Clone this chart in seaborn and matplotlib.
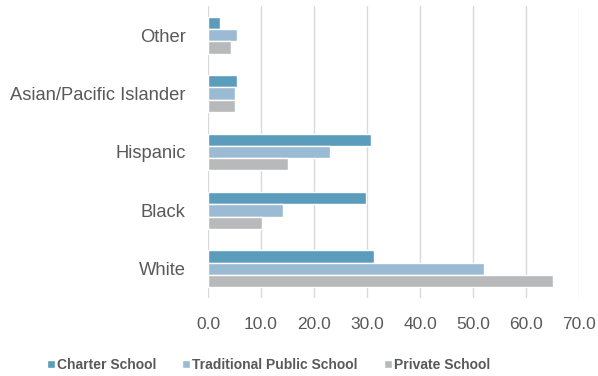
import pandas as pd
import matplotlib.pyplot as plt
import seaborn as sns

groups = ["Other", "Asian/Pacific Islander", "Hispanic", "Black", "White"]
schools = ["Charter School", "Traditional Public School", "Private School"]
charter = [2.3, 5.4, 30.8, 29.9, 31.4]
public = [5.5, 5.0, 23.0, 14.1, 52.0]
private = [4.3, 5.0, 15.1, 10.1, 65.1]
colors = ["#5B9BBB", "#9BBAD3", "#B8B9BB"]

df = pd.DataFrame({"group": groups * 3,
                   "school": [s for s in schools for _ in groups],
                   "value": charter + public + private})

sns.set_style("white")
plt.rcParams['font.family'] = ['Liberation Sans', 'DejaVu Sans']
text_col = "#595959"

fig = plt.figure(figsize=(5.98, 3.76), dpi=100)
ax = fig.add_axes([208/598, 1 - 298/376, (579 - 208)/598, 292/376])
sns.barplot(data=df, y="group", x="value", hue="school", order=groups,
            hue_order=schools, palette=colors, width=0.63, saturation=1,
            orient="h", ax=ax)

ax.set_xlim(0, 70)
ax.set_xticks(range(0, 71, 10))
ax.set_xticklabels([f"{t:.1f}" for t in range(0, 71, 10)])
ax.grid(axis="x", color="#D9D9D9", linewidth=1)
ax.set_axisbelow(True)
for s in ax.spines.values():
    s.set_visible(False)
ax.set_xlabel("")
ax.set_ylabel("")
ax.tick_params(axis="both", length=0, labelcolor=text_col)
ax.tick_params(axis="x", pad=14, labelsize=12.5)
ax.tick_params(axis="y", pad=16, labelsize=13.2)

ax.legend(loc="center", bbox_to_anchor=(268.5/598, 1 - 365/376),
          bbox_transform=fig.transFigure, ncol=3, frameon=False,
          prop={"weight": "bold", "size": 10}, labelcolor=text_col,
          handlelength=0.55, handleheight=0.55, handletextpad=0.15,
          columnspacing=1.9)

fig.savefig("out.png", dpi=100)
